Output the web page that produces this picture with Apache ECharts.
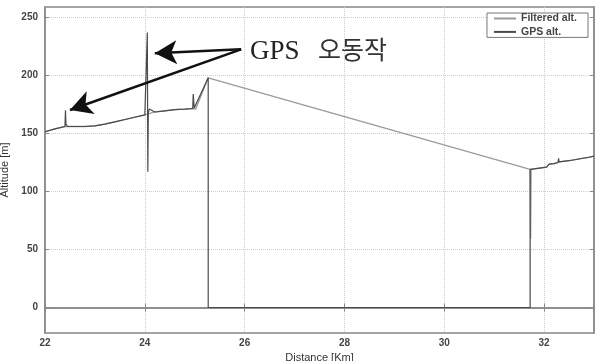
<!DOCTYPE html>
<html>
<head>
<meta charset="utf-8">
<script src="https://cdn.jsdelivr.net/npm/echarts@6/dist/echarts.min.js"></script>
<style>
  html, body { margin: 0; padding: 0; background: #fff; }
  #chart { width: 605px; height: 361px; }
</style>
</head>
<body>
<div id="chart"></div>
<script>
// GPS altitude (with the glitches and the signal loss at 0)
let gpsDist = [22.00, 22.20, 22.40, 22.41, 22.42, 22.45, 22.60, 22.80, 23.00, 23.20, 23.40, 23.60, 23.80, 24.00, 24.04, 24.05, 24.06, 24.07, 24.09, 24.20, 24.40, 24.60, 24.80, 24.96, 24.97, 24.99, 25.02, 25.27, 25.27, 31.72, 31.72, 31.80, 32.05, 32.10, 32.20, 32.28, 32.29, 32.30, 32.50, 32.70, 32.90, 33.00];
let gpsAlt = [151.5, 154, 156, 170, 158, 156, 156, 156, 156.5, 158, 160, 162, 164, 166, 167, 237, 117, 168, 171, 168.5, 169.5, 170.5, 171, 171.5, 184, 172, 171, 198, 0, 0, 119, 119.5, 121, 123.5, 124, 125, 128.5, 125.5, 126.5, 128, 129.5, 130.5];
// filtered altitude (bridges the gap)
let filtDist = [22.00, 22.20, 22.40, 22.60, 22.80, 23.00, 23.20, 23.40, 23.60, 23.80, 24.00, 24.20, 24.40, 24.60, 24.80, 24.96, 25.02, 25.27, 31.72, 31.73, 31.74, 31.80, 32.05, 32.10, 32.20, 32.30, 32.50, 32.70, 32.90, 33.00];
let filtAlt = [151.5, 154, 156, 156, 156, 156.5, 158, 160, 162, 164, 166, 168.5, 169.5, 170.5, 171, 171.5, 171, 198, 119, 59, 119, 119.5, 121, 123.5, 124, 125.5, 126.5, 128, 129.5, 130.5];
let yTicks = [0, 50, 100, 150, 200, 250];
// arrows of the "GPS 오동작" note: [start, tip] in data units
let arrowFrom = [25.93, 222.5];
let arrowTips = [[24.2, 219.1], [22.5, 170.2]];

var myChart = echarts.init(document.getElementById("chart"));

let gpsData = gpsDist.map((d, i) => [d, gpsAlt[i]]);
let filtData = filtDist.map((d, i) => [d, filtAlt[i]]);
let arrowLines = arrowTips.map(t => [{ coord: arrowFrom }, { coord: t }]);

let labelStyle = {
  color: "#444",
  fontSize: 10,
  fontWeight: "bold",
  fontFamily: "Liberation Sans"
};

let option = {
  animation: false,
  backgroundColor: "#fff",
  grid: {
    left: 45,
    right: 11,
    top: 7,
    bottom: 28,
    outerBoundsMode: "none",
    show: true,
    borderColor: "#888",
    borderWidth: 1.5
  },
  legend: {
    orient: "vertical",
    right: 17,
    top: 13,
    backgroundColor: "#fff",
    borderColor: "#777",
    borderWidth: 1,
    padding: [0, 11, 0, 7],
    itemWidth: 22,
    itemHeight: 2,
    itemGap: 2.4,
    icon: "rect",
    textStyle: {
      color: "#444",
      fontSize: 10.5,
      fontWeight: "bold",
      fontFamily: "Liberation Sans",
      lineHeight: 11
    },
    data: ["Filtered alt.", "GPS alt."]
  },
  xAxis: [
    {
      type: "value",
      min: 22,
      max: 33,
      interval: 2,
      name: "Distance [Km]",
      nameLocation: "middle",
      nameGap: 16,
      nameTextStyle: { color: "#333", fontSize: 11, fontFamily: "Liberation Sans" },
      axisLine: { lineStyle: { color: "#888", width: 1.5 } },
      axisTick: { inside: true, length: 4, lineStyle: { color: "#888" } },
      axisLabel: Object.assign({ margin: 5, showMaxLabel: false }, labelStyle),
      splitLine: { show: true, lineStyle: { color: "#ccc", type: "dotted" } }
    },
    {
      type: "value",
      position: "top",
      min: 22,
      max: 33,
      interval: 2,
      axisLine: { lineStyle: { color: "#888", width: 1.5 } },
      axisTick: { inside: true, length: 4, lineStyle: { color: "#888" } },
      axisLabel: { show: false },
      splitLine: { show: false }
    }
  ],
  yAxis: [
    {
      type: "value",
      min: -22,
      max: 259,
      name: "Altitude [m]",
      nameLocation: "middle",
      nameGap: 29,
      nameTextStyle: { color: "#333", fontSize: 11, fontFamily: "Liberation Sans" },
      axisLine: { show: true, lineStyle: { color: "#888", width: 1.5 } },
      axisTick: { show: true, inside: true, length: 4, customValues: yTicks, lineStyle: { color: "#888" } },
      axisLabel: Object.assign({ margin: 7, customValues: yTicks }, labelStyle),
      splitLine: { show: true, customValues: yTicks, lineStyle: { color: "#ccc", type: "dotted" } }
    },
    {
      type: "value",
      position: "right",
      min: -22,
      max: 259,
      axisLine: { show: true, lineStyle: { color: "#888", width: 1.5 } },
      axisTick: { show: true, inside: true, length: 4, customValues: yTicks, lineStyle: { color: "#888" } },
      axisLabel: { show: false, customValues: yTicks },
      splitLine: { show: false }
    }
  ],
  graphic: [
    {
      type: "text",
      left: 250,
      top: 38,
      style: { text: "GPS", fill: "#222", font: "27px 'Liberation Serif'" }
    },
    {
      type: "text",
      left: 318,
      top: 37,
      style: { text: "오동작", fill: "#333", font: "25px 'Noto Sans CJK KR'" }
    }
  ],
  series: [
    {
      name: "Filtered alt.",
      type: "line",
      data: filtData,
      showSymbol: false,
      lineStyle: { color: "#9a9a9a", width: 1.3 },
      itemStyle: { color: "#9a9a9a" },
      z: 2
    },
    {
      name: "GPS alt.",
      type: "line",
      data: gpsData,
      showSymbol: false,
      lineStyle: { color: "#4a4a4a", width: 1.2 },
      itemStyle: { color: "#4a4a4a" },
      z: 3,
      markLine: {
        silent: true,
        symbol: ["none", "arrow"],
        symbolSize: [18, 22],
        label: { show: false },
        lineStyle: { color: "#111", width: 2.5, type: "solid" },
        data: arrowLines
      }
    }
  ]
};
myChart.setOption(option);
</script>
</body>
</html>
